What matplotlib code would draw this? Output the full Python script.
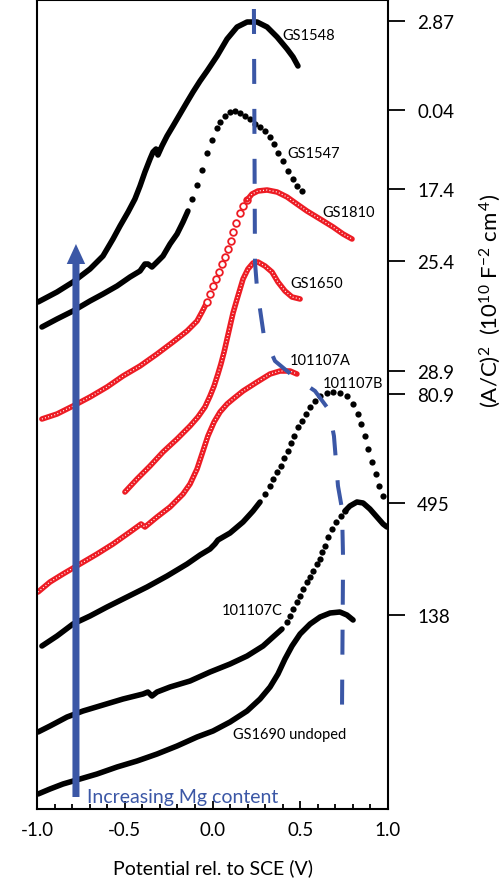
import numpy as np
import matplotlib
matplotlib.use("Agg")
import matplotlib.pyplot as plt

plt.rcParams['font.family'] = ['Lato', 'DejaVu Sans']
plt.rcParams['mathtext.fontset'] = 'custom'
plt.rcParams['mathtext.rm'] = 'Lato'
plt.rcParams['mathtext.it'] = 'Lato:italic'
plt.rcParams['axes.unicode_minus'] = False

RED = '#ed1c24'
BLUE = '#3b57a6'

# --- data (x: potential vs SCE in V, y: offset signal, arbitrary units) ---
# GS1548
gs1548_x = [-0.994, -0.886, -0.795, -0.698, -0.624, -0.567, -0.527, -0.481, -0.442, -0.413,
            -0.385, -0.356, -0.339, -0.322, -0.311, -0.288, -0.259, -0.225, -0.185, -0.145,
            -0.111, -0.071, -0.031, 0.026, 0.083, 0.140, 0.197, 0.254, 0.311, 0.368, 0.425,
            0.459, 0.487]
gs1548_y = [507, 517, 527, 540, 553, 570, 583, 597, 610, 623, 637, 650, 657, 660, 654, 663,
            673, 683, 695, 707, 717, 728, 738, 753, 770, 782, 787, 787, 782, 772, 760, 752, 743]

# GS1547 (continuous part, then separate dots)
gs1547_x = [-0.972, -0.886, -0.795, -0.698, -0.624, -0.544, -0.470, -0.413, -0.385, -0.368,
            -0.345, -0.316, -0.282, -0.242, -0.202, -0.168, -0.140]
gs1547_y = [482, 490, 498, 508, 515, 523, 532, 538, 545, 545, 542, 547, 553, 565, 575, 587, 598]
gs1547_dx = [-0.117, -0.088, -0.060, -0.031, -0.003, 0.026, 0.043, 0.071, 0.100, 0.128, 0.157,
             0.185, 0.214, 0.242, 0.271, 0.299, 0.328, 0.350, 0.373, 0.402, 0.430, 0.459,
             0.481, 0.510]
gs1547_dy = [610, 624, 639, 656, 669, 681, 687, 693, 697, 698, 696, 693, 690, 685, 682, 678,
             672, 665, 656, 648, 638, 630, 623, 618]

# GS1810
gs1810_x1 = [-0.972, -0.886, -0.795, -0.698, -0.601, -0.510, -0.413, -0.316, -0.225, -0.145,
             -0.088, -0.060, -0.031]
gs1810_y1 = [390, 395, 403, 412, 422, 433, 443, 455, 467, 478, 488, 497, 507]
gs1810_dx = [-0.031, -0.014, 0.003, 0.020, 0.037, 0.054, 0.071, 0.088, 0.105, 0.117, 0.134,
             0.157, 0.174, 0.197]
gs1810_dy = [507, 515, 523, 530, 537, 545, 552, 560, 568, 577, 586, 596, 603, 609]
gs1810_x2 = [0.197, 0.225, 0.259, 0.311, 0.368, 0.425, 0.481, 0.538, 0.613, 0.687, 0.744, 0.795]
gs1810_y2 = [609, 615, 618, 619, 617, 612, 605, 598, 590, 582, 575, 570]

# GS1650
gs1650_x = [-0.499, -0.430, -0.356, -0.282, -0.202, -0.128, -0.083, -0.043, -0.014, 0.009,
            0.031, 0.048, 0.066, 0.083, 0.100, 0.117, 0.140, 0.157, 0.174, 0.202, 0.231,
            0.259, 0.299, 0.339, 0.373, 0.413, 0.453, 0.499]
gs1650_y = [317, 330, 343, 357, 370, 383, 392, 402, 413, 423, 435, 445, 457, 470, 483, 496,
            510, 520, 530, 540, 546, 547, 543, 537, 527, 518, 512, 510]

# 101107A
a_x = [-0.994, -0.926, -0.852, -0.755, -0.658, -0.567, -0.470, -0.407, -0.385, -0.316, -0.242,
       -0.168, -0.128, -0.088, -0.054, -0.026, 0.009, 0.043, 0.083, 0.117, 0.174, 0.254,
       0.328, 0.385, 0.442, 0.481]
a_y = [217, 227, 235, 245, 255, 265, 277, 285, 282, 292, 302, 315, 325, 340, 358, 373, 387,
       397, 405, 410, 418, 427, 435, 438, 438, 435]

# 101107B
b_x = [-0.972, -0.886, -0.795, -0.698, -0.601, -0.487, -0.373, -0.259, -0.145, -0.071, -0.014,
       0.014, 0.031, 0.100, 0.174, 0.231, 0.271]
b_y = [163, 173, 185, 193, 202, 212, 222, 233, 245, 254, 260, 265, 269, 276, 287, 298, 307]
b_dx = [0.299, 0.328, 0.345, 0.368, 0.390, 0.407, 0.430, 0.447, 0.464, 0.487, 0.510, 0.533,
        0.556, 0.584, 0.613, 0.652, 0.687, 0.726, 0.766, 0.801, 0.829, 0.846, 0.869, 0.886,
        0.909, 0.932, 0.949, 0.972]
b_dy = [315, 323, 330, 337, 343, 351, 358, 366, 373, 382, 388, 395, 402, 408, 413, 416, 417,
        416, 413, 405, 395, 385, 373, 360, 347, 335, 323, 313]

# 101107C
c_x1 = [-0.994, -0.926, -0.829, -0.738, -0.624, -0.510, -0.396, -0.368, -0.345, -0.316,
        -0.242, -0.128, -0.014, 0.100, 0.197, 0.288, 0.345, 0.396]
c_y1 = [77, 83, 92, 98, 104, 110, 115, 117, 113, 117, 122, 128, 137, 145, 153, 163, 172, 180]
c_dx = [0.425, 0.442, 0.459, 0.481, 0.499, 0.516, 0.538, 0.556, 0.573, 0.595, 0.613, 0.624,
        0.641, 0.658, 0.681, 0.704, 0.732, 0.755]
c_dy = [187, 193, 200, 207, 213, 220, 227, 232, 238, 245, 250, 257, 263, 272, 280, 287, 293, 298]
c_x2 = [0.755, 0.783, 0.823, 0.858, 0.897, 0.937, 0.972, 0.994]
c_y2 = [298, 303, 307, 306, 300, 292, 285, 282]

# GS1690 undoped
u_x = [-0.994, -0.926, -0.852, -0.755, -0.658, -0.544, -0.430, -0.316, -0.202, -0.088, 0.003,
       0.100, 0.197, 0.271, 0.328, 0.373, 0.413, 0.453, 0.499, 0.556, 0.613, 0.670, 0.726,
       0.766, 0.801]
u_y = [15, 20, 25, 30, 35, 42, 48, 55, 63, 72, 78, 87, 98, 110, 122, 135, 150, 163, 175, 185,
       192, 196, 197, 194, 189]

# peak-position guide
guide_x = [0.236, 0.242, 0.254, 0.293, 0.356, 0.459, 0.584, 0.664, 0.692, 0.715, 0.738, 0.744, 0.738]
guide_y = [800, 547, 520, 473, 448, 433, 418, 399, 373, 323, 300, 250, 102]

# right axis: offsets of each curve
offset_pos = [788, 699, 620, 548, 438, 415, 306, 194]
offset_lab = ['2.87', '0.04', '17.4', '25.4', '28.9', '80.9', '495', '138']

labels = ['GS1548', 'GS1547', 'GS1810', 'GS1650', '101107A', '101107B', '101107C', 'GS1690 undoped']
label_x = [0.396, 0.425, 0.624, 0.442, 0.442, 0.630, 0.054, 0.117]
label_y = [770, 652, 593, 522, 445, 422, 195, 71]

fig = plt.figure(figsize=(5.03, 8.79), dpi=100)
ax = fig.add_axes([37 / 503, 69 / 879, 351 / 503, 809 / 879])


def black_line(x, y):
    ax.plot(x, y, color='k', lw=4.0, solid_capstyle='round', solid_joinstyle='round', zorder=2)


def black_dots(x, y):
    ax.plot(x, y, 'o', color='k', ms=4.5, mew=0, zorder=2)


def red_line(x, y):
    ax.plot(x, y, color=RED, lw=4.0, solid_capstyle='round', solid_joinstyle='round', zorder=2)
    ax.plot(x, y, color='white', lw=0.9, ls=(0, (0.8, 1.8)), zorder=2)


def red_dots(x, y):
    ax.plot(x, y, 'o', mfc='white', mec=RED, ms=4.8, mew=1.3, zorder=2)


black_line(gs1548_x, gs1548_y)
black_line(gs1547_x, gs1547_y)
black_dots(gs1547_dx, gs1547_dy)
red_line(gs1810_x1, gs1810_y1)
red_dots(gs1810_dx, gs1810_dy)
red_line(gs1810_x2, gs1810_y2)
red_line(gs1650_x, gs1650_y)
red_line(a_x, a_y)
black_line(b_x, b_y)
black_dots(b_dx, b_dy)
black_line(c_x1, c_y1)
black_dots(c_dx, c_dy)
black_line(c_x2, c_y2)
black_line(u_x, u_y)

ax.plot(guide_x, guide_y, color=BLUE, lw=2.9, ls=(0, (6.2, 6.2)), zorder=3)

ax.arrow(-0.778, 12, 0, 553, width=0.04, head_width=0.105, head_length=20,
         length_includes_head=True, color=BLUE, lw=0, zorder=4)
ax.text(-0.715, 7, 'Increasing Mg content', color=BLUE, fontsize=14, va='baseline', zorder=4)

for t, x, y in zip(labels, label_x, label_y):
    ax.text(x, y, t, fontsize=10.5, va='baseline', ha='left', zorder=5)

ax.set_xlim(-1.0, 1.0)
ax.set_ylim(0, 809)
ax.set_xticks([-1.0, -0.5, 0.0, 0.5, 1.0])
ax.set_xticklabels(['-1.0', '-0.5', '0.0', '0.5', '1.0'])
ax.set_xticks(np.arange(-1.0, 1.01, 0.1), minor=True)
ax.tick_params(axis='x', which='major', direction='in', length=6, width=1.3, labelsize=13.5, pad=9)
ax.tick_params(axis='x', which='minor', direction='in', length=3.5, width=1.3)
ax.tick_params(top=False, which='both')

ax.yaxis.tick_right()
ax.set_yticks(offset_pos)
ax.set_yticklabels(offset_lab)
ax.tick_params(axis='y', direction='out', length=12, width=1.3, labelsize=13.5, pad=9)
ax.set_xlabel('Potential rel. to SCE (V)', fontsize=14, labelpad=14)

fig.text(490 / 503, 1 - 301 / 879, r'(A/C)$^{2}$  (10$^{10}$ F$^{-2}$ cm$^{\,4}$)', fontsize=16,
         rotation=90, ha='center', va='center')

for s in ax.spines.values():
    s.set_linewidth(1.5)

fig.savefig('out.png', dpi=100)
